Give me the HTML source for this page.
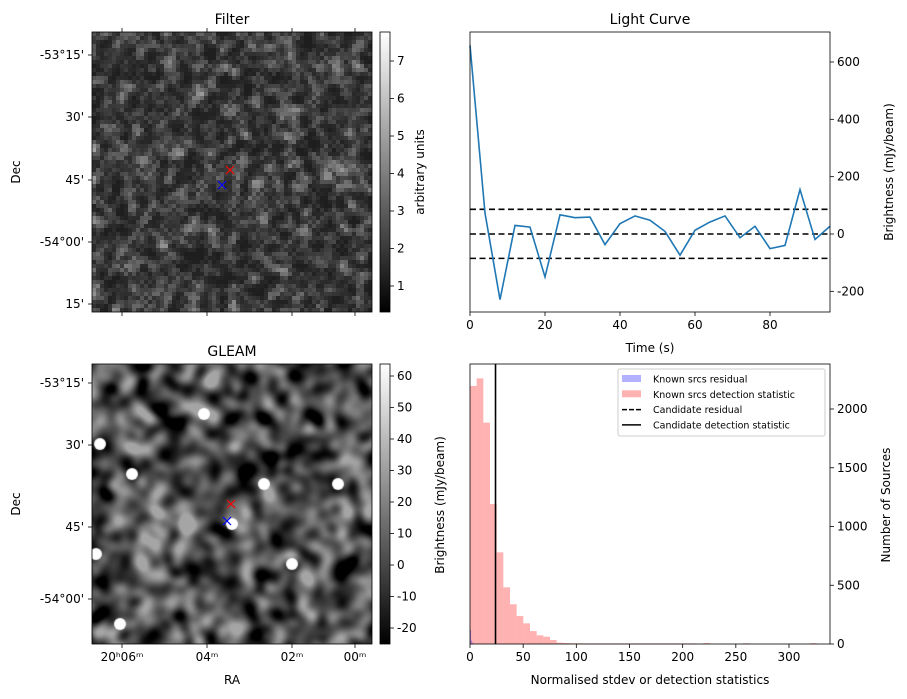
<!DOCTYPE html>
<html><head><meta charset="utf-8"><style>
body{margin:0;background:#fff;width:907px;height:699px;overflow:hidden;position:relative;font-family:"Liberation Sans","DejaVu Sans",sans-serif}
canvas{position:absolute}
svg{position:absolute;left:0;top:0}
text{font-family:"DejaVu Sans","Liberation Sans",sans-serif;fill:#000}
</style></head><body>
<canvas id="filt" width="70" height="70" style="left:92px;top:32px;width:280px;height:280px;image-rendering:pixelated"></canvas>
<canvas id="gleam" width="280" height="280" style="left:92px;top:364px;width:280px;height:280px"></canvas>
<svg id="s" width="907" height="699">
<defs>
<linearGradient id="cb" x1="0" y1="1" x2="0" y2="0"><stop offset="0" stop-color="#000"/><stop offset="1" stop-color="#fff"/></linearGradient>
</defs>
<g id="g"></g>
</svg>
<script>
// ---- light curve data ----
const lcTimes=[0,4,8,12,16,20,24,28,32,36,40,44,48,52,56,60,64,68,72,76,80,84,88,92,96];
const lcValues=[658,73,-229,30,24,-150,67,57,59,-37,36,63,48,9,-74,13,42,63,-13,27,-51,-40,155,-19,27];
const lcLevels=[86,0,-85];
const lcYTicks=[-200,0,200,400,600];
const lcXTicks=[0,20,40,60,80];
// ---- histogram data ----
const histBinWidth=6.27;
const histDetection=[2196,2261,1884,1191,780,482,338,238,176,110,74,62,34,11,8,6,6,5,5,5,5,5,5,5,5,5,5,5,5,5,5,5,5,5,0,8,0,0,0,0,0,6,0,0,0,0,0,0,0,0,0,7,0];
const histResidual=[120,30,10];
const candidateStat=24;
const histXTicks=[0,50,100,150,200,250,300];
const histYTicks=[0,500,1000,1500,2000];
const filterCbTicks=[1,2,3,4,5,6,7];
const gleamCbTicks=[-20,-10,0,10,20,30,40,50,60];

const NS='http://www.w3.org/2000/svg';
const G=document.getElementById('g');
function el(tag,a,txt){const e=document.createElementNS(NS,tag);for(const k in a)e.setAttribute(k,a[k]);if(txt!==undefined)e.textContent=txt;G.appendChild(e);return e;}
function tx(x,y,s,size,extra){const e=el('text',Object.assign({x,y,style:'font-size:'+(size||12)+'px'},extra||{}),s);return e;}
function line(x1,y1,x2,y2,extra){return el('line',Object.assign({x1,y1,x2,y2,stroke:'#000','stroke-width':0.8},extra||{}));}

// ---------- Light curve ----------
const LC={l:470,r:830,t:32,b:312};
const lx=v=>LC.l+v*3.75, ly=v=>234-v*0.28667;
let t=tx(650,24,'Light Curve',14,{'text-anchor':'middle'});

lcLevels.forEach((v,i)=>{const e=line(LC.l,ly(v),LC.r,ly(v),{'stroke-width':1.6,'stroke-dasharray':'6,3.5'});
});
let p=el('polyline',{points:lcTimes.map((tt,i)=>lx(tt)+','+ly(lcValues[i])).join(' '),fill:'none',stroke:'#1f77b4','stroke-width':1.6});

el('rect',{x:LC.l,y:LC.t,width:LC.r-LC.l,height:LC.b-LC.t,fill:'none',stroke:'#000','stroke-width':0.8});
lcXTicks.forEach(v=>{line(lx(v),LC.b,lx(v),LC.b+4);const e=tx(lx(v),LC.b+17,v,12,{'text-anchor':'middle'});
});
lcYTicks.forEach(v=>{line(LC.r,ly(v),LC.r+4,ly(v));const e=tx(LC.r+7,ly(v)+4,v);
});
t=tx(650,352,'Time (s)',12,{'text-anchor':'middle'});
t=tx(893,172,'Brightness (mJy/beam)',12,{'text-anchor':'middle',transform:'rotate(-90 893 172)'});

// ---------- Histogram ----------
const H={l:470,r:830,t:364,b:644};
const hx=v=>H.l+v*1.0633, hy=v=>644-v*0.1175;
histDetection.forEach((c,i)=>{if(!c)return;const x0=hx(i*histBinWidth),x1=Math.min(hx((i+1)*histBinWidth),H.r);
const r=el('rect',{x:x0,y:hy(c),width:x1-x0,height:644-hy(c),fill:'#ff0000','fill-opacity':0.3});
});
histResidual.forEach((c,i)=>{const x0=hx(i*1),x1=hx((i+1)*1);
const r=el('rect',{x:x0,y:hy(c),width:x1-x0,height:644-hy(c),fill:'#0000ff','fill-opacity':0.3});
});
p=line(hx(candidateStat),H.t,hx(candidateStat),H.b,{'stroke-width':1.6});
el('rect',{x:H.l,y:H.t,width:H.r-H.l,height:H.b-H.t,fill:'none',stroke:'#000','stroke-width':0.8});
histXTicks.forEach(v=>{line(hx(v),H.b,hx(v),H.b+4);const e=tx(hx(v),H.b+17,v,12,{'text-anchor':'middle'});
});
histYTicks.forEach(v=>{line(H.r,hy(v),H.r+4,hy(v));const e=tx(H.r+7,hy(v)+4,v);
});
t=tx(650,684,'Normalised stdev or detection statistics',12,{'text-anchor':'middle'});
t=tx(890,505,'Number of Sources',12,{'text-anchor':'middle',transform:'rotate(-90 890 505)'});
t=tx(444,505,'Brightness (mJy/beam)',12,{'text-anchor':'middle',transform:'rotate(-90 444 505)'});
// legend
const lg=el('rect',{x:618,y:369,width:207,height:67,fill:'#fff','fill-opacity':0.8,stroke:'#ccc',rx:2});

const legItems=['Known srcs residual','Known srcs detection statistic','Candidate residual','Candidate detection statistic'];
legItems.forEach((s,i)=>{const y=379+i*15.3;
if(i==0)el('rect',{x:622,y:y-4,width:19,height:7,fill:'#0000ff','fill-opacity':0.3});
if(i==1)el('rect',{x:622,y:y-4,width:19,height:7,fill:'#ff0000','fill-opacity':0.3});
if(i==2)line(622,y,641,y,{'stroke-width':1.5,'stroke-dasharray':'5,2'});
if(i==3)line(622,y,641,y,{'stroke-width':1.5});
const e=tx(653,y+3.5,s,9.5);});

// ---------- Image panels ----------
function imgAxes(top,title,decTicks,decYs,cbTicks,cbY,cbLabel,ra){
 el('rect',{x:92,y:top,width:280,height:280,fill:'none',stroke:'#000','stroke-width':0.8});
 let e=tx(232,top-8,title,14,{'text-anchor':'middle'});
 decTicks.forEach((s,i)=>{line(88,decYs[i],92,decYs[i]);const q=tx(84,decYs[i]+4,s,12,{'text-anchor':'end'});
 });
 e=tx(20,top+140,'Dec',12,{'text-anchor':'middle',transform:'rotate(-90 20 '+(top+140)+')'});
 [122,207,292,355].forEach(x=>{line(x,top+280,x,top+284);if(!ra)line(x,top,x,top-4);});
 const cb=el('rect',{x:380,y:top,width:10,height:280,fill:'url(#cb)',stroke:'#000','stroke-width':0.8});
 
 cbTicks.forEach(v=>{const y=cbY(v);line(390,y,394,y);const q=tx(397,y+4,v);});
 if(cbLabel){e=tx(424,top+140,cbLabel,12,{'text-anchor':'middle',transform:'rotate(-90 424 '+(top+140)+')'});}
}
imgAxes(32,'Filter',["-53°15'","30'","45'","-54°00'","15'"],[55,117,180,242,304],filterCbTicks,v=>286-(v-1)*37.5,'arbitrary units',false);
imgAxes(364,'GLEAM',["-53°15'","30'","45'","-54°00'"],[383,445,527,599],gleamCbTicks,v=>376+(60-v)*3.15,null,true);
[[122,'20ʰ06ᵐ'],[207,'04ᵐ'],[292,'02ᵐ'],[355,'00ᵐ']].forEach(a=>{const e=tx(a[0],661,a[1],12,{'text-anchor':'middle'});});
t=tx(232,684,'RA',12,{'text-anchor':'middle'});
function cross(x,y,c,n){const a=line(x-4,y-4,x+4,y+4,{stroke:c,'stroke-width':1.2});line(x-4,y+4,x+4,y-4,{stroke:c,'stroke-width':1.2});}
cross(230,170,'red','filter-red-marker');cross(222,185,'blue','filter-blue-marker');
cross(231,504,'red','gleam-red-marker');cross(227,521,'blue','gleam-blue-marker');

// textures (seeded, decorative)
let seed=12345;function rnd(){seed=(seed*1103515245+12345)&0x7fffffff;return seed/0x7fffffff;}
const N=70,raw=[];for(let i=0;i<N*N;i++)raw.push(rnd());
const fc=document.getElementById('filt').getContext('2d');const fd=fc.createImageData(N,N);
for(let y=0;y<N;y++)for(let x=0;x<N;x++){let s=0,c=0;for(let dy=-1;dy<=1;dy++)for(let dx=-1;dx<=1;dx++){const yy=y+dy,xx=x+dx;if(yy<0||xx<0||yy>=N||xx>=N)continue;const w=(dx==0&&dy==0)?2:0.6;s+=raw[yy*N+xx]*w;c+=w;}
let v=s/c;v=Math.max(0,(v-0.25))*1.6;v=Math.pow(v,1.8)*140+30;const i=y*N+x;fd.data[i*4]=fd.data[i*4+1]=fd.data[i*4+2]=Math.min(255,v);fd.data[i*4+3]=255;}
fc.putImageData(fd,0,0);
const tmp=document.createElement('canvas');tmp.width=N;tmp.height=N;const tc=tmp.getContext('2d');const td=tc.createImageData(N,N);
for(let i=0;i<N*N;i++){const v=rnd()*255;td.data[i*4]=td.data[i*4+1]=td.data[i*4+2]=v;td.data[i*4+3]=255;}
tc.putImageData(td,0,0);
const gc=document.getElementById('gleam').getContext('2d');
gc.filter='blur(5px) contrast(3.5) brightness(0.65)';gc.drawImage(tmp,-10,-10,300,300);gc.filter='none';
gc.fillStyle='#fff';[[8,80],[40,110],[112,50],[172,120],[246,120],[4,190],[28,260],[140,160],[200,200]].forEach(b=>{gc.beginPath();gc.arc(b[0],b[1],6,0,7);gc.fill();});
</script>
</body></html>
